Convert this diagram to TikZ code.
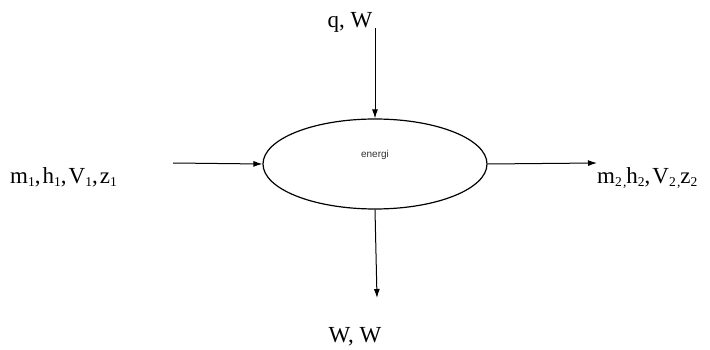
\documentclass[tikz,border=0pt]{standalone}
\usepackage{fontspec}
\setmainfont{Liberation Serif}
\newfontfamily\labelsans{Liberation Sans}
\newfontfamily\widefont[LetterSpace=9]{Liberation Serif}
\usetikzlibrary{shapes.geometric,arrows.meta}
\newcommand\sbs[1]{\raisebox{-0.2ex}{\fontsize{13.5}{14}\selectfont #1}}
\begin{document}
\begin{tikzpicture}[x=1pt,y=-1pt,
  flow/.style={draw=black,line width=1pt,-{Latex[length=9pt,width=6pt]}},
  lbl/.style={inner sep=0pt,font=\fontsize{23}{25}\selectfont},
  widelbl/.style={inner sep=0pt,font=\widefont\fontsize{23}{25}\selectfont}]
\useasboundingbox (0,0) rectangle (710,350);
\node[draw=black,line width=1.2pt,ellipse,minimum width=224pt,minimum height=90pt,inner sep=0pt] (e) at (375,164) {};
\node[font=\labelsans\fontsize{10}{11}\selectfont,text=black!80] (el) at (375,155) {energi};
\coordinate (tin) at (375,28);
\coordinate (lin) at (173,163);
\coordinate (rout) at (597,163);
\coordinate (bout) at (377,298);
\draw[flow] (tin) -- (e.north);
\draw[flow] (lin) -- (e.west);
\draw[flow] (e.east) -- (rout);
\draw[flow] (e.south) -- (bout);
\node[lbl,anchor=base] (qw) at (350,28) {q, W};
\node[widelbl,anchor=base west] (l1) at (10,184) {m\sbs{1},h\sbs{1},V\sbs{1},z\sbs{1}};
\node[widelbl,anchor=base west] (l2) at (597,184) {m\sbs{2,}h\sbs{2},V\sbs{2,}z\sbs{2}};
\node[lbl,anchor=base] (ww) at (355,342) {W, W};
\end{tikzpicture}
\end{document}
